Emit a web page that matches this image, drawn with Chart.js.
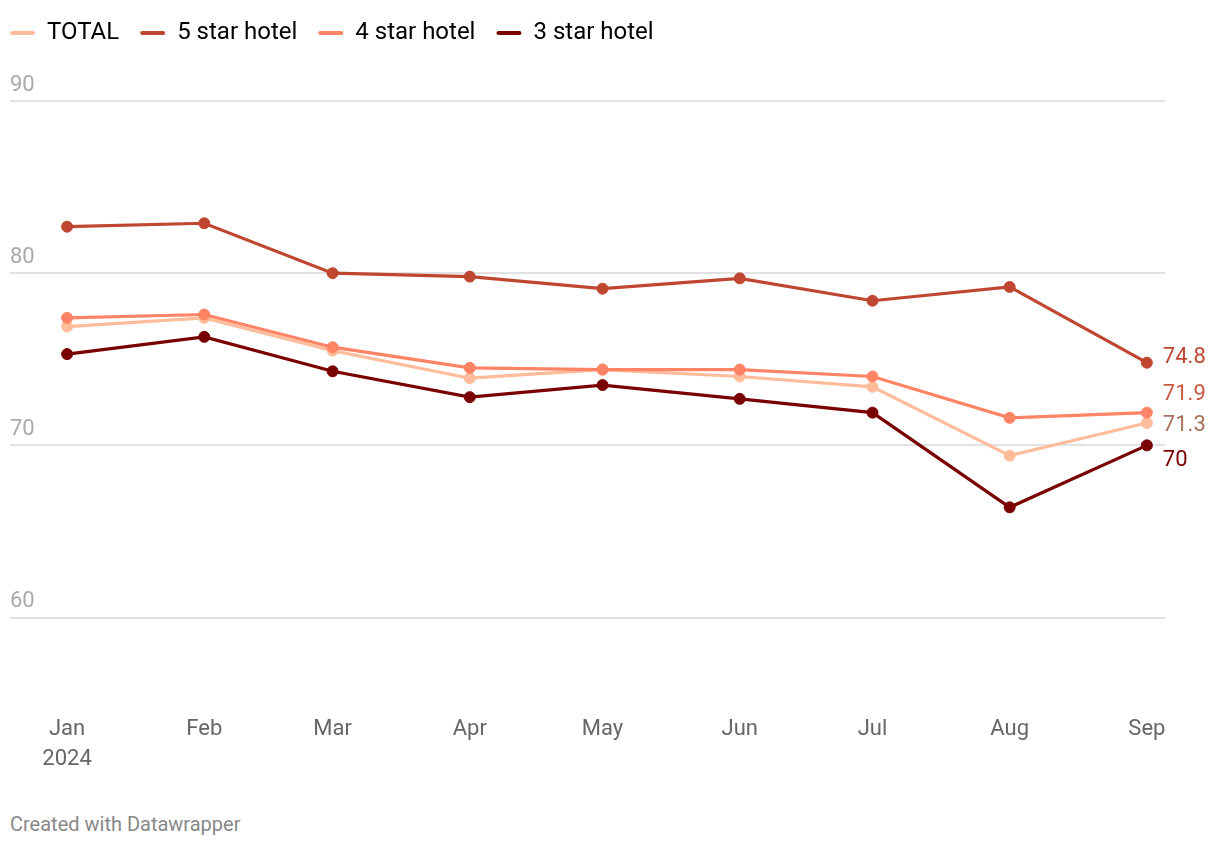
<!DOCTYPE html>
<html lang="en">
<head>
  <meta charset="UTF-8">
  <title>Hotel occupancy 2024</title>
  <script src="https://cdn.jsdelivr.net/npm/chart.js"></script>
  <style>
    body { margin: 0; background: #fff; font-family: Roboto, sans-serif; }
    .wrap { position: relative; width: 1220px; height: 777px; }
    .credit { position: absolute; left: 10px; top: 812px; font-size: 20px; color: #888; }
  </style>
</head>
<body>
  <div class="wrap"><canvas id="chart"></canvas></div>
  <div class="credit">Created with Datawrapper</div>
  <script>
    // data
    const months = ['Jan', 'Feb', 'Mar', 'Apr', 'May', 'Jun', 'Jul', 'Aug', 'Sep'];
    const monthStarts = ['2024-01-01', '2024-02-01', '2024-03-01', '2024-04-01', '2024-05-01',
                         '2024-06-01', '2024-07-01', '2024-08-01', '2024-09-01'];
    const total = [76.9, 77.4, 75.5, 73.9, 74.4, 74.0, 73.4, 69.4, 71.3];
    const fiveStar = [82.7, 82.9, 80.0, 79.8, 79.1, 79.7, 78.4, 79.2, 74.8];
    const fourStar = [77.4, 77.6, 75.7, 74.5, 74.4, 74.4, 74.0, 71.6, 71.9];
    const threeStar = [75.3, 76.3, 74.3, 72.8, 73.5, 72.7, 71.9, 66.4, 70.0];
    const yTicks = [60, 70, 80, 90];

    // x is a date axis: days since 1 Jan 2024
    const dayOf = s => (Date.parse(s) - Date.parse(monthStarts[0])) / 86400000;
    const xDays = monthStarts.map(dayOf);

    const series = [
      { label: 'TOTAL', data: total, color: '#ffbc9a', text: '#a8735a', dy: 3, order: 4 },
      { label: '5 star hotel', data: fiveStar, color: '#bf4630', text: '#bf4630', dy: -5, order: 1 },
      { label: '4 star hotel', data: fourStar, color: '#ff8365', text: '#c95a44', dy: -18, order: 2 },
      { label: '3 star hotel', data: threeStar, color: '#7a0000', text: '#7a0000', dy: 15, order: 3 }
    ];

    // value labels at the end of each line
    const endLabels = {
      id: 'endLabels',
      afterDatasetsDraw(chart) {
        const ctx = chart.ctx;
        ctx.save();
        ctx.font = '22px Roboto';
        ctx.textBaseline = 'middle';
        ctx.textAlign = 'left';
        series.forEach((s, i) => {
          const pts = chart.getDatasetMeta(i).data;
          const p = pts[pts.length - 1];
          const v = s.data[s.data.length - 1];
          ctx.fillStyle = s.text;
          ctx.fillText(v % 1 === 0 ? v.toFixed(0) : String(v), p.x + 16, p.y + s.dy);
        });
        ctx.restore();
      }
    };

    // more room under the legend, and pull it to the left edge
    const legendSpace = {
      id: 'legendSpace',
      beforeInit(chart) {
        const fit = chart.legend.fit;
        chart.legend.fit = function () {
          fit.bind(chart.legend)();
          this.height += 46;
        };
      },
      afterLayout(chart) {
        chart.legend.left -= 21;
      }
    };

    new Chart(document.getElementById('chart'), {
      type: 'line',
      data: {
        datasets: series.map(s => ({
          label: s.label,
          data: s.data.map((v, i) => ({ x: xDays[i], y: v })),
          borderColor: s.color,
          backgroundColor: s.color,
          borderWidth: 3.2,
          pointRadius: 5.5,
          pointBorderWidth: 1,
          pointHoverRadius: 5.5,
          order: s.order,
          tension: 0
        }))
      },
      options: {
        responsive: true,
        maintainAspectRatio: false,
        animation: false,
        layout: { padding: { left: 10, right: 55, top: 0, bottom: 0 } },
        plugins: {
          legend: {
            position: 'top',
            align: 'start',
            labels: {
              font: { family: 'Roboto', size: 24 },
              color: '#222',
              padding: 21,
              generateLabels(chart) {
                return chart.data.datasets.map((ds, i) => ({
                  text: ds.label,
                  fillStyle: ds.borderColor,
                  strokeStyle: ds.borderColor,
                  lineWidth: 0,
                  borderRadius: 2,
                  datasetIndex: i
                }));
              },
              boxWidth: 25,
              boxHeight: 4
            }
          },
          tooltip: { enabled: false }
        },
        scales: {
          x: {
            type: 'linear',
            min: -12.9,
            max: 248.1,
            afterBuildTicks(axis) { axis.ticks = xDays.map(d => ({ value: d })); },
            ticks: {
              font: { family: 'Roboto', size: 22, lineHeight: 1.35 },
              color: '#666',
              padding: 3,
              maxRotation: 0,
              autoSkip: false,
              callback: v => {
                const i = xDays.indexOf(v);
                return i === 0 ? [months[0], '2024'] : months[i];
              }
            },
            grid: { display: false },
            border: { display: false }
          },
          y: {
            min: 55,
            max: 90,
            afterBuildTicks(axis) { axis.ticks = yTicks.map(v => ({ value: v })); },
            ticks: {
              mirror: true,
              padding: 0,
              labelOffset: -16,
              font: { family: 'Roboto', size: 22 },
              color: '#aaa'
            },
            grid: { color: '#e2e2e2', lineWidth: 2, drawTicks: false },
            border: { display: false }
          }
        }
      },
      plugins: [endLabels, legendSpace]
    });
  </script>
</body>
</html>
